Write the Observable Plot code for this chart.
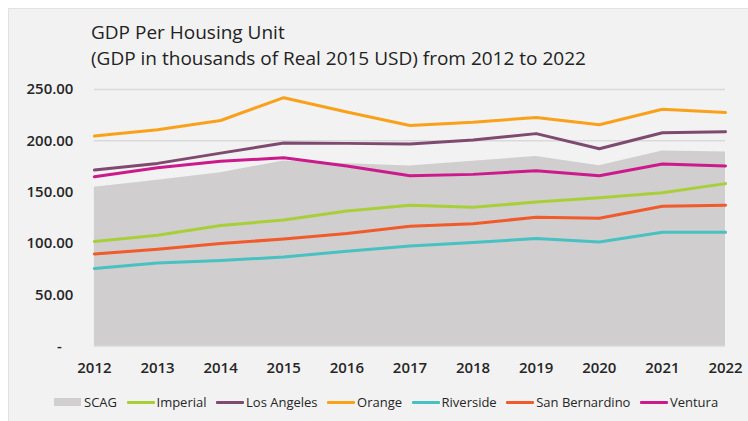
<!DOCTYPE html>
<html>
<head>
<meta charset="utf-8">
<script src="https://cdn.jsdelivr.net/npm/d3@7"></script>
<script src="https://cdn.jsdelivr.net/npm/@observablehq/plot@0.6"></script>
<style>
  html, body { margin: 0; padding: 0; background: #ffffff; width: 748px; height: 421px; overflow: hidden; }
  #panel { position: absolute; left: 8px; top: 8px; width: 740px; height: 413px; background: #f2f2f2;
           border-left: 1px solid #e2e2e2; border-top: 1px solid #e2e2e2; box-sizing: border-box;
           font-family: "Open Sans", "Noto Sans", sans-serif; color: #262626; }
  #title { position: absolute; left: 82px; top: 10px; font-size: 19px; line-height: 26px; color: #222222; white-space: nowrap; }
  #chart { position: absolute; left: -1px; top: 66px; }
  #legend { position: absolute; left: 45px; top: 384px; display: flex; align-items: center; font-size: 13px; color: #262626; white-space: nowrap; }
  .item { display: flex; align-items: center; margin-right: 9.5px; }
  .sw { width: 28px; height: 3px; margin-right: 2px; border-radius: 1px; }
  .rect { width: 27px; height: 8px; margin-right: 3px; }
</style>
</head>
<body>
<div id="panel">
  <div id="title">GDP Per Housing Unit<br>(GDP in thousands of Real 2015 USD) from 2012 to 2022</div>
  <div id="chart"></div>
  <div id="legend"></div>
</div>
<script>
const years = [2012, 2013, 2014, 2015, 2016, 2017, 2018, 2019, 2020, 2021, 2022];
const scag = [154.7, 161.5, 169.0, 180.3, 177.7, 175.4, 180.0, 184.8, 175.8, 190.0, 189.0];
const imperial = [102.0, 108.0, 117.4, 122.9, 131.6, 137.2, 135.2, 140.4, 144.6, 149.5, 158.3];
const losAngeles = [171.5, 178.0, 188.0, 197.8, 197.5, 196.8, 200.7, 207.0, 192.3, 207.8, 208.8];
const orange = [204.6, 210.8, 219.8, 242.0, 228.0, 215.0, 218.0, 222.8, 215.7, 230.8, 227.6];
const riverside = [75.6, 81.0, 83.3, 86.9, 92.4, 97.6, 100.9, 104.8, 101.5, 110.9, 110.9];
const sanBernardino = [89.8, 94.4, 99.9, 104.4, 109.6, 116.7, 119.3, 125.5, 124.5, 136.2, 137.2];
const ventura = [165.0, 173.8, 180.0, 183.5, 175.4, 166.0, 167.3, 170.9, 166.0, 177.4, 175.4];
const yTicks = [0, 50, 100, 150, 200, 250];

const lineSeries = [
  {name: "Imperial", values: imperial, color: "#a9cf38"},
  {name: "Los Angeles", values: losAngeles, color: "#7e4a6f"},
  {name: "Orange", values: orange, color: "#f9a11b"},
  {name: "Riverside", values: riverside, color: "#47c1c2"},
  {name: "San Bernardino", values: sanBernardino, color: "#f15a2b"},
  {name: "Ventura", values: ventura, color: "#cc1a8c"}
];
const areaColor = "#d0cecf";

const scagData = years.map((y, i) => ({year: y, value: scag[i]}));
const lineData = lineSeries.flatMap(s => years.map((y, i) => ({series: s.name, year: y, value: s.values[i]})));

const chart = Plot.plot({
  width: 741,
  height: 314,
  marginLeft: 86,
  marginRight: 23,
  marginTop: 14,
  marginBottom: 43,
  style: {background: "transparent", fontFamily: "'Open Sans', 'Noto Sans', sans-serif", color: "#262626"},
  x: {type: "linear", domain: [2012, 2022], label: null},
  y: {domain: [0, 250], label: null},
  color: {domain: lineSeries.map(s => s.name), range: lineSeries.map(s => s.color)},
  marks: [
    Plot.gridY(yTicks, {stroke: "#d9d9d9", strokeOpacity: 1, strokeWidth: 1.5}),
    Plot.areaY(scagData, {x: "year", y: "value", fill: areaColor}),
    Plot.lineY(lineData, {x: "year", y: "value", z: "series", stroke: "series", strokeWidth: 3, strokeLinejoin: "round", strokeLinecap: "round"}),
    Plot.axisX({ticks: years, tickFormat: d => String(d), tickSize: 0, tickPadding: 16, fontSize: 15, fontWeight: 600, label: null}),
    Plot.axisY({ticks: yTicks, tickFormat: d => d === 0 ? "-\u00a0\u00a0\u00a0" : d3.format(".2f")(d), tickSize: 0, tickPadding: 21, fontSize: 15, fontWeight: 600, label: null})
  ]
});
document.getElementById("chart").appendChild(chart);

const legend = document.getElementById("legend");
const scagItem = document.createElement("div");
scagItem.className = "item";
scagItem.innerHTML = `<div class="rect" style="background:${areaColor}"></div><span>SCAG</span>`;
legend.appendChild(scagItem);
for (const s of lineSeries) {
  const it = document.createElement("div");
  it.className = "item";
  it.innerHTML = `<div class="sw" style="background:${s.color}"></div><span>${s.name}</span>`;
  legend.appendChild(it);
}
</script>
</body>
</html>
